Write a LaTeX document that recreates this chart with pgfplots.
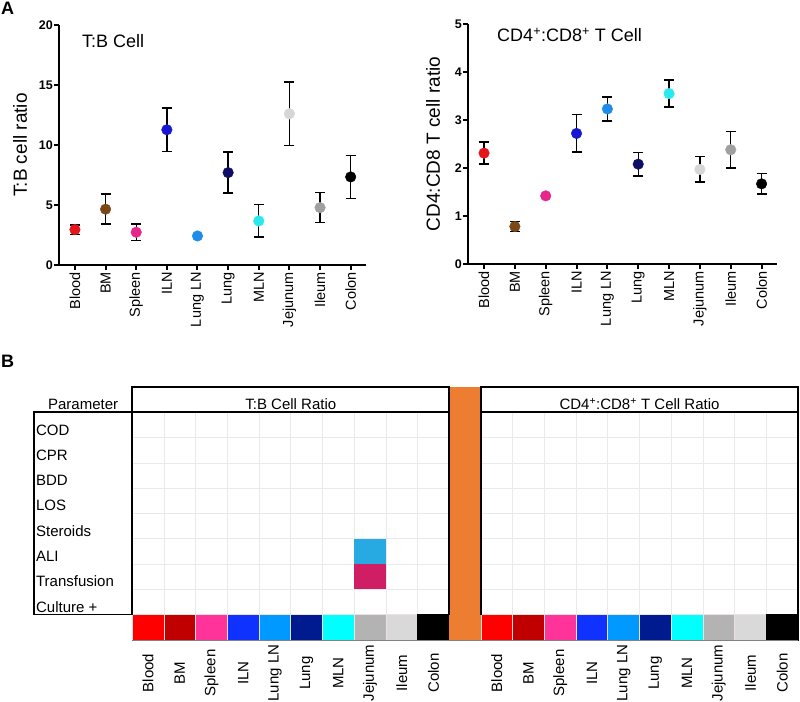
\documentclass[border=0pt]{standalone}
\usepackage{fontspec}
\setmainfont{Liberation Sans}
\usepackage{pgfplots}
\pgfplotsset{compat=1.18}

% dot colours (panel A)
\definecolor{pBlood}{RGB}{228,22,28}
\definecolor{pBM}{RGB}{122,72,22}
\definecolor{pSpleen}{RGB}{230,40,140}
\definecolor{pILN}{RGB}{24,24,212}
\definecolor{pLungLN}{RGB}{30,140,235}
\definecolor{pLung}{RGB}{14,14,100}
\definecolor{pMLN}{RGB}{40,232,240}
\definecolor{pJej}{RGB}{214,214,214}
\definecolor{pIle}{RGB}{160,160,160}
\definecolor{pCol}{RGB}{0,0,0}
% strip colours (panel B)
\definecolor{sBlood}{RGB}{255,0,0}
\definecolor{sBM}{RGB}{192,0,0}
\definecolor{sSpleen}{RGB}{255,51,153}
\definecolor{sILN}{RGB}{16,50,255}
\definecolor{sLungLN}{RGB}{0,153,255}
\definecolor{sLung}{RGB}{0,26,143}
\definecolor{sMLN}{RGB}{0,255,255}
\definecolor{sJej}{RGB}{179,179,179}
\definecolor{sIle}{RGB}{217,217,217}
\definecolor{sCol}{RGB}{0,0,0}
\definecolor{orangebar}{RGB}{237,125,49}
\definecolor{aliblue}{RGB}{38,170,225}
\definecolor{transred}{RGB}{208,30,100}
\definecolor{gridc}{RGB}{234,234,234}
\definecolor{stripsep}{RGB}{235,225,225}

\pgfplotsset{
  dot/.style={only marks, mark=*, mark size=5.3bp, color=#1, mark options={draw=#1, fill=#1}},
  eb/.style={/pgfplots/error bars/y dir=both, /pgfplots/error bars/y explicit,
    /pgfplots/error bars/error bar style={black, line width=1.4bp},
    /pgfplots/error bars/error mark options={black, line width=1.4bp, mark size=5bp, rotate=90}},
  panelA/.style={
    scale only axis, anchor=south west, clip=false,
    xmin=0.48, xmax=10.5, ymin=0,
    axis x line*=bottom, axis y line*=left,
    axis line style={-, line width=2bp, black},
    tick align=outside, major tick length=5bp,
    tick style={black, line width=2bp},
    xtick={1,2,3,4,5,6,7,8,9,10},
    xticklabels={Blood,BM,Spleen,ILN,Lung LN,Lung,MLN,Jejunum,Ileum,Colon},
    xticklabel style={rotate=90, anchor=east, inner sep=2bp,
      font=\fontsize{14.5bp}{15bp}\selectfont},
    yticklabel style={inner sep=1bp, font=\fontsize{12.5bp}{13bp}\selectfont\bfseries},
    /pgf/number format/assume math mode=true,
    ylabel style={anchor=center, font=\fontsize{19bp}{20bp}\selectfont},
  },
}

\begin{document}
\begin{tikzpicture}
\path[use as bounding box] (0,0) rectangle (800bp,702bp);

\node[anchor=base west, inner sep=0, font=\fontsize{18bp}{18bp}\selectfont\bfseries] at (1bp,687bp) {A};
\node[anchor=base west, inner sep=0, font=\fontsize{18bp}{18bp}\selectfont\bfseries] at (1bp,334bp) {B};

% ---- T:B cell ratio
\begin{axis}[panelA, at={(59bp,437bp)}, width=307bp, height=240bp,
  ymax=20, ytick={0,5,10,15,20},
  ylabel={T:B cell ratio}, ylabel style={at={(axis description cs:-0.127,0.5)}}]
\addplot[dot=pBlood, eb] coordinates {(1,2.95) +- (0,0.39)};
\addplot[dot=pBM, eb] coordinates {(2,4.65) +- (0,1.25)};
\addplot[dot=pSpleen, eb] coordinates {(3,2.73) +- (0,0.68)};
\addplot[dot=pILN, eb] coordinates {(4,11.27) +- (0,1.8)};
\addplot[dot=pLungLN] coordinates {(5,2.42)};
\addplot[dot=pLung, eb] coordinates {(6,7.7) +- (0,1.7)};
\addplot[dot=pMLN, eb] coordinates {(7,3.67) +- (0,1.35)};
\addplot[dot=pJej, eb] coordinates {(8,12.6) +- (0,2.65)};
\addplot[dot=pIle, eb] coordinates {(9,4.78) +- (0,1.24)};
\addplot[dot=pCol, eb] coordinates {(10,7.34) +- (0,1.79)};
\node[anchor=west, inner sep=0, font=\fontsize{18bp}{18bp}\selectfont] at (rel axis cs:0.075,0.933) {T:B Cell};
\end{axis}

% ---- CD4:CD8 ratio
\begin{axis}[panelA, at={(468bp,438bp)}, width=309bp, height=240bp,
  ymax=5, ytick={0,1,2,3,4,5},
  ylabel={CD4:CD8 T cell ratio}, ylabel style={at={(axis description cs:-0.113,0.5)}}]
\addplot[dot=pBlood, eb] coordinates {(1,2.31) +- (0,0.23)};
\addplot[dot=pBM, eb] coordinates {(2,0.78) +- (0,0.1)};
\addplot[dot=pSpleen] coordinates {(3,1.42)};
\addplot[dot=pILN, eb] coordinates {(4,2.72) +- (0,0.39)};
\addplot[dot=pLungLN, eb] coordinates {(5,3.23) +- (0,0.25)};
\addplot[dot=pLung, eb] coordinates {(6,2.08) +- (0,0.245)};
\addplot[dot=pMLN, eb] coordinates {(7,3.55) +- (0,0.28)};
\addplot[dot=pJej, eb] coordinates {(8,1.97) +- (0,0.265)};
\addplot[dot=pIle, eb] coordinates {(9,2.38) +- (0,0.38)};
\addplot[dot=pCol, eb] coordinates {(10,1.67) +- (0,0.215)};
\node[anchor=west, inner sep=0, font=\fontsize{18bp}{18bp}\selectfont] at (rel axis cs:0.094,0.954) {CD4\textsuperscript{+}:CD8\textsuperscript{+} T Cell};
\end{axis}

% ---- panel B table
\begin{axis}[at={(34bp,62bp)}, anchor=south west, scale only axis,
  width=764bp, height=253bp,
  xmin=-3.1, xmax=21, ymin=-1, ymax=9, clip=false,
  axis line style={draw=none}, major tick length=0pt, ytick=\empty,
  xtick={0.5,1.5,2.5,3.5,4.5,5.5,6.5,7.5,8.5,9.5,11.5,12.5,13.5,14.5,15.5,16.5,17.5,18.5,19.5,20.5},
  xticklabels={Blood,BM,Spleen,ILN,Lung LN,Lung,MLN,Jejunum,Ileum,Colon,
               Blood,BM,Spleen,ILN,Lung LN,Lung,MLN,Jejunum,Ileum,Colon},
  xticklabel style={rotate=90, anchor=center, font=\fontsize{15bp}{16bp}\selectfont},
  xticklabel shift=33bp,
  unbounded coords=jump]
% faint grid
\addplot[gridc, line width=0.7bp] coordinates {
  (1,0)(1,8)(1,nan) (2,0)(2,8)(2,nan) (3,0)(3,8)(3,nan) (4,0)(4,8)(4,nan)
  (5,0)(5,8)(5,nan) (6,0)(6,8)(6,nan) (7,0)(7,8)(7,nan) (8,0)(8,8)(8,nan)
  (9,0)(9,8)(9,nan) (12,0)(12,8)(12,nan) (13,0)(13,8)(13,nan) (14,0)(14,8)(14,nan)
  (15,0)(15,8)(15,nan) (16,0)(16,8)(16,nan) (17,0)(17,8)(17,nan) (18,0)(18,8)(18,nan)
  (19,0)(19,8)(19,nan) (20,0)(20,8)(20,nan)
  (0,1)(21,1)(21,nan) (0,2)(21,2)(21,nan) (0,3)(21,3)(21,nan) (0,4)(21,4)(21,nan)
  (0,5)(21,5)(21,nan) (0,6)(21,6)(21,nan) (0,7)(21,7)};
% significant cells
\addplot[fill=aliblue, draw=none] coordinates {(7,2)(8,2)(8,3)(7,3)} -- cycle;
\addplot[fill=transred, draw=none] coordinates {(7,1)(8,1)(8,2)(7,2)} -- cycle;
% colour strip
\addplot[ybar, bar width=1, bar shift=0pt, fill=sBlood, draw=stripsep, line width=0.6bp] coordinates {(0.5,-1) (11.5,-1)};
\addplot[ybar, bar width=1, bar shift=0pt, fill=sBM, draw=stripsep, line width=0.6bp] coordinates {(1.5,-1) (12.5,-1)};
\addplot[ybar, bar width=1, bar shift=0pt, fill=sSpleen, draw=stripsep, line width=0.6bp] coordinates {(2.5,-1) (13.5,-1)};
\addplot[ybar, bar width=1, bar shift=0pt, fill=sILN, draw=stripsep, line width=0.6bp] coordinates {(3.5,-1) (14.5,-1)};
\addplot[ybar, bar width=1, bar shift=0pt, fill=sLungLN, draw=stripsep, line width=0.6bp] coordinates {(4.5,-1) (15.5,-1)};
\addplot[ybar, bar width=1, bar shift=0pt, fill=sLung, draw=stripsep, line width=0.6bp] coordinates {(5.5,-1) (16.5,-1)};
\addplot[ybar, bar width=1, bar shift=0pt, fill=sMLN, draw=stripsep, line width=0.6bp] coordinates {(6.5,-1) (17.5,-1)};
\addplot[ybar, bar width=1, bar shift=0pt, fill=sJej, draw=stripsep, line width=0.6bp] coordinates {(7.5,-1) (18.5,-1)};
\addplot[ybar, bar width=1, bar shift=0pt, fill=sIle, draw=stripsep, line width=0.6bp] coordinates {(8.5,-1) (19.5,-1)};
\addplot[ybar, bar width=1, bar shift=0pt, fill=sCol, draw=sCol, line width=0.6bp] coordinates {(9.5,-1) (20.5,-1)};
% orange separator column
\addplot[fill=orangebar, draw=none] coordinates {(10,-1)(11,-1)(11,9)(10,9)} -- cycle;
\addplot[gray, line width=0.8bp] coordinates {(0,-1)(21,-1)};
% borders
\addplot[black, line width=1.6bp] coordinates {(0,8)(-3.1,8)(-3.1,0)(0,0)};
\addplot[black, line width=1.6bp] coordinates {(0,0)(0,9)(10,9)(10,0)};
\addplot[black, line width=1.6bp] coordinates {(11,0)(11,9)(21,9)(21,0)};
\addplot[black, line width=1.6bp] coordinates {(0,8)(10,8)};
\addplot[black, line width=1.6bp] coordinates {(11,8)(21,8)};
% headers and row names
\node[anchor=base, font=\fontsize{15bp}{16bp}\selectfont] at (axis cs:-1.55,8.1) {Parameter};
\node[anchor=base, font=\fontsize{15bp}{16bp}\selectfont] at (axis cs:5,8.1) {T:B Cell Ratio};
\node[anchor=base, font=\fontsize{15bp}{16bp}\selectfont] at (axis cs:16,8.1) {CD4\textsuperscript{+}:CD8\textsuperscript{+} T Cell Ratio};
\node[anchor=base west, inner sep=0, font=\fontsize{15bp}{16bp}\selectfont] at (axis cs:-3.04,7.1) {COD};
\node[anchor=base west, inner sep=0, font=\fontsize{15bp}{16bp}\selectfont] at (axis cs:-3.04,6.1) {CPR};
\node[anchor=base west, inner sep=0, font=\fontsize{15bp}{16bp}\selectfont] at (axis cs:-3.04,5.1) {BDD};
\node[anchor=base west, inner sep=0, font=\fontsize{15bp}{16bp}\selectfont] at (axis cs:-3.04,4.1) {LOS};
\node[anchor=base west, inner sep=0, font=\fontsize{15bp}{16bp}\selectfont] at (axis cs:-3.04,3.1) {Steroids};
\node[anchor=base west, inner sep=0, font=\fontsize{15bp}{16bp}\selectfont] at (axis cs:-3.04,2.1) {ALI};
\node[anchor=base west, inner sep=0, font=\fontsize{15bp}{16bp}\selectfont] at (axis cs:-3.04,1.1) {Transfusion};
\node[anchor=base west, inner sep=0, font=\fontsize{15bp}{16bp}\selectfont] at (axis cs:-3.04,0.1) {Culture +};
\end{axis}
\end{tikzpicture}
\end{document}
